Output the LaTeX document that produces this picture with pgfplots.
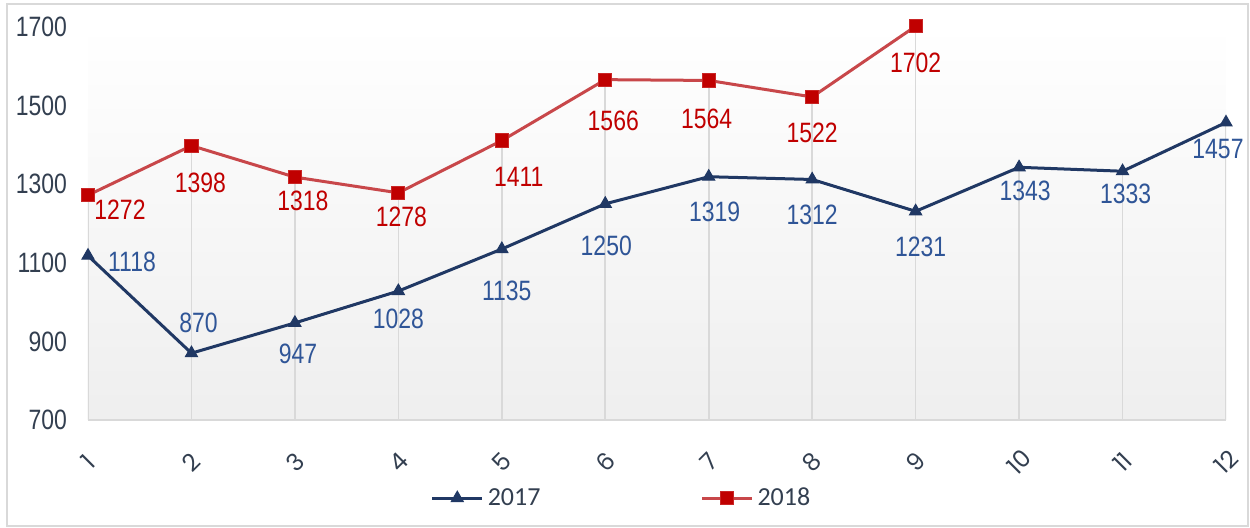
\documentclass[border=0pt]{standalone}
\usepackage{pgfplots}
\pgfplotsset{compat=1.18}
\usepackage{fontspec}
\setmainfont{Liberation Sans}
\newfontfamily\narrow{Liberation Sans}[FakeStretch=0.82]
\newfontfamily\gothic{Poppins}
\newfontfamily\leg{Carlito}
\definecolor{navy}{HTML}{203864}
\definecolor{bluelab}{HTML}{2F5597}
\definecolor{redline}{HTML}{C8474A}
\definecolor{redmark}{HTML}{C00000}
\definecolor{tick}{HTML}{333F50}
\definecolor{grid}{HTML}{D9D9D9}

\pgfplotsset{
  lab/.style n args={3}{draw=none, mark=none, forget plot, nodes near coords,
    nodes near coords style={font=\narrow\fontsize{14}{16}\selectfont, text=#1,
      anchor=center, xshift=#2pt, yshift=#3pt}},
}

\begin{document}
\begin{tikzpicture}
\useasboundingbox (-44pt,-54pt) rectangle (581pt,210pt);
\draw[grid, line width=0.6pt] (-40.5pt,-53pt) rectangle (580pt,208pt);
\begin{axis}[
  scale only axis,
  width=569pt, height=197.48pt,
  at={(0,0)}, anchor=south west,
  xmin=1, xmax=12, ymin=700, ymax=1705,
  xtick={1,...,12}, ytick={700,900,...,1700},
  axis x line*=bottom, axis y line*=left,
  x axis line style={draw=grid, line width=0.8pt, -},
  y axis line style={draw=none},
  major tick length=0pt,
  tick style={draw=none},
  /pgf/number format/1000 sep={},
  /pgf/number format/assume math mode=true,
  yticklabel style={font=\narrow\fontsize{14}{16}\selectfont, text=tick, xshift=-7pt},
  xticklabel style={font=\gothic\fontsize{12}{14}\selectfont, text=tick, anchor=center, yshift=-21pt, rotate=45},
  axis background/.style={top color=white, bottom color=gray!13},
  legend style={at={(0.4697,-0.198)}, anchor=center, draw=none, fill=none,
    font=\leg\fontsize{13}{15}\selectfont, text=tick,
    /tikz/every even column/.append style={column sep=78pt},
    inner sep=0pt},
  legend columns=2,
  legend cell align=left,
  legend image code/.code={\draw[mark repeat=2,mark phase=2] plot coordinates {(0pt,0pt)(12.5pt,0pt)(25pt,0pt)};},
]
% drop lines
\addplot[ycomb, draw=grid, line width=0.8pt, forget plot] coordinates {
(1,1272)(2,1398)(3,1318)(4,1278)(5,1411)(6,1566)(7,1564)(8,1522)(9,1702)(10,1343)(11,1333)(12,1457)};
% series
\addplot[color=navy, line width=1.5pt, mark=triangle*, mark size=3.5pt,
  mark options={fill=navy, draw=navy, line width=0.5pt}] coordinates {
(1,1118)(2,870)(3,947)(4,1028)(5,1135)(6,1250)(7,1319)(8,1312)(9,1231)(10,1343)(11,1333)(12,1457)};
\addlegendentry{2017}
\addplot[color=redline, line width=1.5pt, mark=square*, mark size=3.3pt,
  mark options={fill=redmark, draw=redmark!85!white, line width=0.5pt}] coordinates {
(1,1272)(2,1398)(3,1318)(4,1278)(5,1411)(6,1566)(7,1564)(8,1522)(9,1702)};
\addlegendentry{2018}
% labels 2017
\addplot[lab={bluelab}{22}{-3}] coordinates {(1,1118)};
\addplot[lab={bluelab}{3.5}{15}] coordinates {(2,870)};
\addplot[lab={bluelab}{1.5}{-15.5}] coordinates {(3,947)};
\addplot[lab={bluelab}{0}{-14}] coordinates {(4,1028)};
\addplot[lab={bluelab}{2.5}{-21}] coordinates {(5,1135)};
\addplot[lab={bluelab}{0.5}{-21}] coordinates {(6,1250)};
\addplot[lab={bluelab}{3}{-17.5}] coordinates {(7,1319)};
\addplot[lab={bluelab}{0}{-17.5}] coordinates {(8,1312)};
\addplot[lab={bluelab}{2.5}{-18}] coordinates {(9,1231)};
\addplot[lab={bluelab}{3}{-12}] coordinates {(10,1343)};
\addplot[lab={bluelab}{1.5}{-11.5}] coordinates {(11,1333)};
\addplot[lab={bluelab}{-4}{-13.5}] coordinates {(12,1457)};
% labels 2018
\addplot[lab={redmark}{16}{-7.5}] coordinates {(1,1272)};
\addplot[lab={redmark}{4.5}{-18.5}] coordinates {(2,1398)};
\addplot[lab={redmark}{4}{-12}] coordinates {(3,1318)};
\addplot[lab={redmark}{1.5}{-12}] coordinates {(4,1278)};
\addplot[lab={redmark}{8.5}{-18}] coordinates {(5,1411)};
\addplot[lab={redmark}{4}{-20.5}] coordinates {(6,1566)};
\addplot[lab={redmark}{-1}{-19}] coordinates {(7,1564)};
\addplot[lab={redmark}{0}{-18}] coordinates {(8,1522)};
\addplot[lab={redmark}{0}{-18.5}] coordinates {(9,1702)};
\end{axis}
\end{tikzpicture}
\end{document}
